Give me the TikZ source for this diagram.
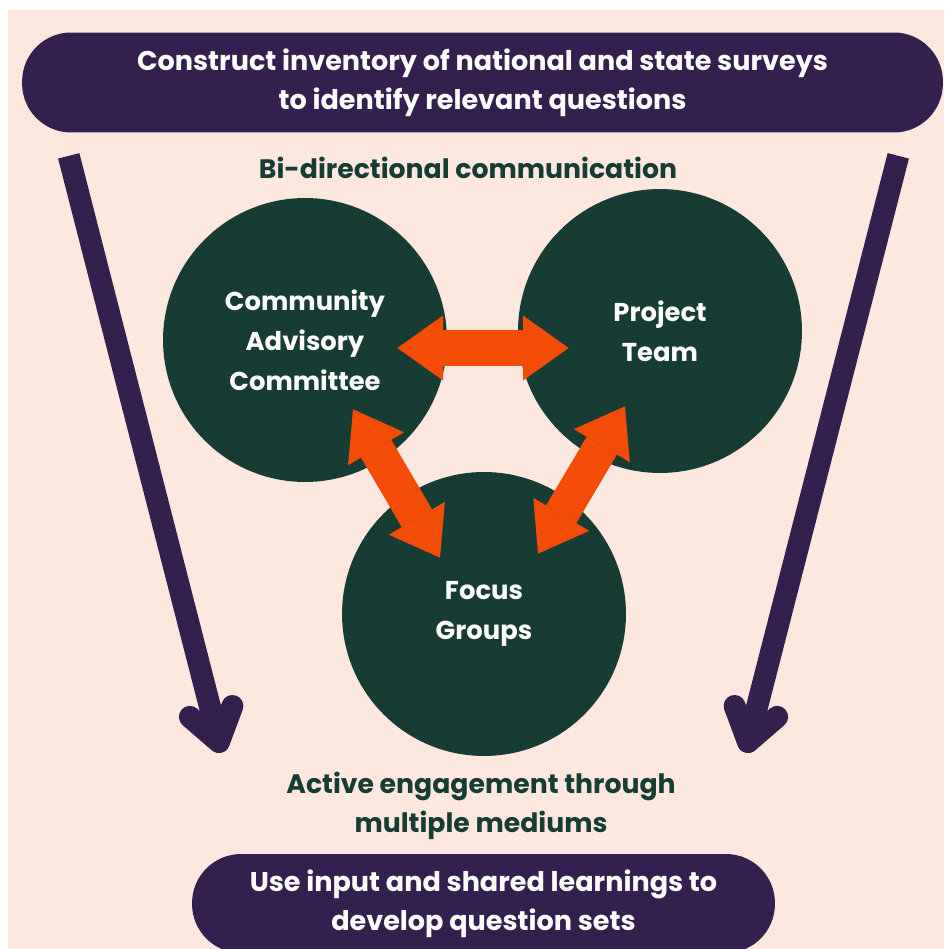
\documentclass[tikz,border=0pt]{standalone}
\usepackage{fontspec}
\setmainfont{Poppins}
\usetikzlibrary{arrows.meta}
\definecolor{peach}{HTML}{FDE8E0}
\definecolor{plum}{HTML}{33204F}
\definecolor{pine}{HTML}{163C34}
\definecolor{flame}{HTML}{F24C07}
\tikzset{
  banner/.style={rectangle,fill=plum,rounded corners=0.98cm,text=white,align=center,inner sep=0pt,
    font=\bfseries\fontsize{15.4}{22}\selectfont},
  disc/.style={circle,fill=pine,minimum size=5.68cm,inner sep=0pt,text=white,align=center,
    font=\bfseries\fontsize{14.7}{22.7}\selectfont},
  note/.style={text=pine,align=center,inner sep=0pt,font=\bfseries\fontsize{15.2}{22}\selectfont},
  twoway/.style={draw=flame,line width=20pt,
    {Triangle[width=37pt,length=26pt,line width=0pt]}-{Triangle[width=37pt,length=26pt,line width=0pt]}},
  downarrow/.style={draw=plum,line width=12.5pt,-{Straight Barb[length=18pt,width=25pt,round]}}
}
\begin{document}
\begin{tikzpicture}[x=0.02cm,y=-0.02cm]
\clip (0,0) rectangle (944,949);
\fill[white] (0,0) rectangle (944,949);
\fill[peach] (8,10) rectangle (944,949);
% banners
\node[banner,minimum width=18.42cm,minimum height=2cm] (top) at (482.5,82.5)
  {Construct inventory of national and state surveys\\to identify relevant questions};
\node[banner,minimum width=11.66cm,minimum height=1.98cm] (bot) at (483.5,903.5)
  {Use input and shared learnings to\\develop question sets};
% labels
\node[note] (bidir) at (468,168) {Bi-directional communication};
\node[note] (active) at (481,806) {Active engagement through\\multiple mediums};
% circles
\node[disc] (cac) at (305,340) {Community\\Advisory\\Committee};
\node[disc] (pt) at (660,331) {Project\\Team};
\node[disc] (fg) at (484,614) {Focus\\Groups};
% orange arrows
\draw[twoway] ([shift={(-50,8)}]cac.east) -- ([shift={(51,17)}]pt.west);
\draw[twoway] ([shift={(48,-73)}]cac.south) -- ([shift={(-44,86)}]fg.north);
\draw[twoway] ([shift={(-35,-67)}]pt.south) -- ([shift={(54,82)}]fg.north);
% purple arrows
\draw[downarrow] ([shift={(47,23)}]top.south west) -- ([shift={(30,-101)}]bot.north west);
\draw[downarrow] ([shift={(-45,23)}]top.south east) -- ([shift={(-30,-101)}]bot.north east);
\end{tikzpicture}
\end{document}
